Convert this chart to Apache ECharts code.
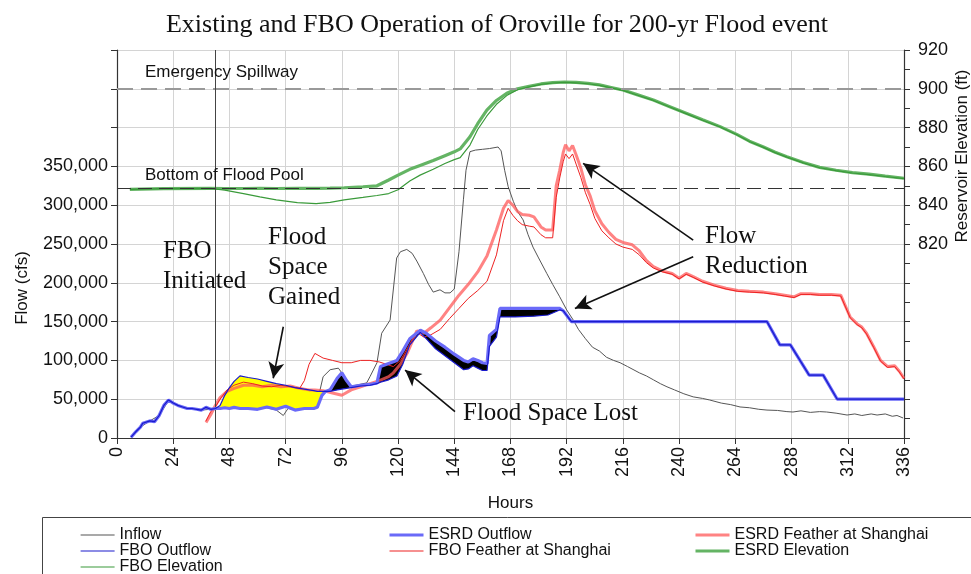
<!DOCTYPE html>
<html>
<head>
<meta charset="utf-8">
<script src="https://cdn.jsdelivr.net/npm/echarts@6/dist/echarts.min.js"></script>
<style>
  html, body { margin: 0; padding: 0; background: #fff; }
  #chart { width: 971px; height: 574px; }
</style>
</head>
<body>
<div id="chart"></div>
<script>
// hours tick labels
var hourTicks = [0, 24, 48, 72, 96, 120, 144, 168, 192, 216, 240, 264, 288, 312, 336];

// inflow (cfs)
var inflowHours = [6, 10, 14, 18, 22, 24, 28, 32, 36, 40, 44, 48, 52, 56, 60, 64, 68, 71, 73, 78, 84, 86, 88, 91, 94.5, 96, 98, 102, 106.6, 108, 111, 113, 116.6, 119.4, 121, 123.7, 126, 128, 130.8, 133, 135, 137.9, 140, 142.2, 144, 146, 147.9, 149, 150.7, 153, 156, 159, 162.7, 164, 165.5, 167, 169.2, 171, 173.4, 175.5, 177.6, 180, 183.5, 186, 189, 192, 194.8, 197, 200, 203, 206, 209, 212, 214.8, 218, 223, 226, 229, 232, 234.8, 238, 242, 246, 250, 253, 258, 262, 266, 270, 274, 277.5, 282, 286, 288.6, 292, 296, 300, 303, 307, 311.7, 315, 318, 322, 324.5, 328, 331, 333, 335.6];
var inflow = [1000, 14000, 22000, 29000, 48000, 45000, 40000, 38000, 36000, 37000, 39000, 40000, 38000, 37000, 38000, 39000, 36000, 29000, 38000, 37000, 38000, 53000, 79000, 88000, 90000, 84000, 66000, 68000, 71000, 79000, 97000, 135000, 152000, 232000, 240000, 243000, 238000, 228000, 212000, 198000, 188000, 191000, 187000, 187000, 192000, 240000, 307000, 345000, 369000, 371000, 372000, 373000, 375000, 370000, 345000, 324000, 305000, 292000, 281000, 262000, 246000, 232000, 212000, 198000, 182000, 165000, 152000, 140000, 128000, 117000, 112000, 104000, 100000, 97000, 92000, 84000, 80000, 75000, 70000, 66000, 62000, 57000, 53000, 51000, 49000, 45000, 43000, 40000, 39000, 37000, 36000, 35500, 34000, 33500, 35000, 33000, 34000, 33500, 32000, 29600, 31000, 29000, 31000, 29600, 31000, 28000, 29000, 25800];

// outflow (cfs), ESRD and FBO on the same hours
var outflowHours = [6, 8, 10, 11, 14, 16, 18, 20, 22, 24, 26, 28, 30, 32, 34, 36, 38, 40, 42, 44, 46, 48, 50, 52.5, 56, 60, 64, 68, 72, 76, 80, 84, 85.5, 87.5, 89, 91, 94, 96, 98, 100, 104, 108, 111, 112.5, 116, 119.5, 122, 125, 129.5, 132, 136, 140, 144, 148, 150, 152, 154, 156, 158, 159, 162, 163.5, 170, 178, 184, 189, 190.5, 194, 220, 250, 277.5, 283, 287.5, 295.5, 301.5, 307.5, 336];
var esrdOutflow = [1000, 8000, 14000, 19000, 22000, 21000, 29000, 42000, 49000, 45000, 42000, 40000, 38000, 38000, 37000, 36000, 39500, 37000, 38000, 38000, 39000, 38000, 39500, 38000, 38000, 37000, 40000, 37000, 41000, 36000, 38000, 38000, 39500, 55000, 60000, 62000, 77000, 84000, 74000, 66000, 68000, 69000, 71000, 92000, 96000, 100000, 112000, 128000, 139000, 135000, 125000, 117000, 108000, 100000, 98000, 102000, 100000, 97000, 96000, 132000, 140000, 167000, 167000, 167000, 167000, 167000, 164000, 150000, 150000, 150000, 150000, 120000, 120000, 81000, 81000, 50000, 50000];
var fboOutflow = [1000, 8000, 14000, 19000, 22000, 21000, 29000, 42000, 49000, 45000, 42000, 40000, 38000, 38000, 37000, 36000, 39500, 37000, 38000, 42000, 55000, 65000, 73000, 80000, 78000, 76000, 73000, 70000, 68000, 65000, 63000, 61000, 60000, 60000, 60000, 60000, 62000, 63000, 64000, 65000, 67000, 68000, 70000, 72000, 75000, 80000, 95000, 120000, 136000, 128000, 115000, 106000, 97000, 88000, 89000, 93000, 90000, 87000, 87000, 118000, 130000, 156000, 156000, 157000, 158500, 165000, 164000, 150000, 150000, 150000, 150000, 120000, 120000, 81000, 81000, 50000, 50000];

// Feather at Shanghai (cfs)
var featherHours = [38, 40, 42, 44, 47, 50, 54, 58, 62, 66, 70, 74, 78, 80, 82, 84.5, 88, 92, 96, 100, 104, 108, 112, 116, 118, 121, 124, 128, 131, 134, 138, 142, 146, 150, 154, 158, 162, 165, 167, 169, 171, 173, 176, 178, 181, 183, 186, 187.5, 189, 190.5, 191.5, 193, 194.5, 196, 198, 200, 202, 204, 207, 210, 213, 216, 220, 223, 226, 229, 233, 237, 240, 243, 246, 250, 255, 260, 265, 270, 276, 281, 285, 289, 292, 296, 300, 305, 309, 311, 313, 316, 318, 320, 323, 326, 329, 332, 334, 336];
var esrdFeather = [20000, 30000, 42000, 52000, 60000, 64000, 68000, 68000, 66000, 68000, 66000, 67000, 64000, 63000, 62000, 62000, 61000, 58000, 55000, 62000, 66000, 70000, 74000, 79000, 84000, 95000, 110000, 138000, 135000, 142000, 152000, 168000, 184000, 198000, 214000, 235000, 268000, 296000, 306000, 300000, 292000, 288000, 287000, 285000, 272000, 268000, 268000, 325000, 345000, 368000, 378000, 370000, 377000, 365000, 348000, 326000, 312000, 293000, 276000, 265000, 256000, 252000, 249000, 241000, 229000, 221000, 215000, 212000, 206000, 212000, 208000, 202000, 197000, 193000, 190000, 189000, 188000, 186000, 184000, 182000, 186000, 186000, 185000, 185000, 184000, 170000, 156000, 147000, 143000, 135000, 118000, 100000, 92000, 93000, 86000, 77000];
var fboFeather = [22000, 34000, 40000, 50000, 62000, 68000, 72000, 70000, 67000, 66000, 68000, 66000, 64000, 74000, 95000, 109000, 103000, 100000, 97000, 97000, 100000, 100000, 98000, 94000, 92000, 100000, 116000, 136000, 130000, 133000, 140000, 154000, 167000, 180000, 190000, 202000, 236000, 280000, 296000, 287000, 280000, 275000, 273000, 272000, 262000, 258000, 258000, 310000, 335000, 356000, 366000, 360000, 366000, 353000, 336000, 316000, 301000, 283000, 267000, 258000, 250000, 246000, 243000, 236000, 226000, 219000, 214000, 211000, 205000, 211000, 207000, 201000, 196000, 192000, 189000, 188000, 187000, 185000, 183000, 181000, 185000, 185000, 184000, 184000, 183000, 169000, 155000, 146000, 142000, 134000, 117000, 99000, 91000, 92000, 85000, 76000];

// reservoir elevation (ft)
var elevHours = [5.5, 20, 40, 46, 54, 61, 68, 77, 85, 91, 97, 105, 111, 116, 120, 125, 129.4, 135, 140, 144, 146.5, 150.7, 154, 157.9, 162, 166.4, 171, 176, 181, 186, 191, 196, 201, 206, 211, 216, 222, 229, 236, 243, 250, 257.5, 264.6, 270, 276, 281, 286, 293, 300, 307, 314, 321, 328, 336];
var esrdElev = [848.2, 848.5, 848.7, 848.6, 848.6, 848.7, 848.6, 848.7, 848.7, 848.8, 849, 849.5, 850, 853, 855.5, 858.5, 860.5, 863, 865.5, 867.5, 869, 875.3, 882, 889, 894, 897.7, 900, 901.3, 902.5, 903.2, 903.5, 903.3, 902.8, 902, 900.7, 899.4, 897, 894.2, 890.8, 887.4, 884, 880.5, 876.5, 873, 870, 867.3, 865, 862, 859.5, 858, 856.8, 856, 855, 853.9];
var fboElev = [848.2, 848.5, 848.7, 847.8, 846, 844.3, 842.7, 841.3, 840.8, 841.5, 842.7, 844, 845, 846, 848, 852.5, 855.5, 858.5, 861.5, 863.5, 864.5, 871, 879, 886, 892, 896.5, 899.5, 901, 902.3, 903, 903.3, 903.1, 902.6, 901.8, 900.5, 899.2, 896.8, 894, 890.6, 887.2, 883.8, 880.3, 876.3, 872.8, 869.8, 867.1, 864.8, 861.8, 859.3, 857.8, 856.6, 855.8, 854.8, 853.7];

// reference levels (ft)
var spillwayElev = 900;
var floodPoolElev = 848.5;
var fboStartHour = 41.8;

function pairs(hours, vals) {
  return hours.map(function (h, i) {
    return [h, vals[i]];
  });
}

// filled band between two outflow lines over a range of hours
function bandSeries(h0, h1, upper, lower, color) {
  return {
    type: "custom",
    silent: true,
    z: 2,
    data: [[h0, 0]],
    renderItem: function (params, api) {
      var top = [];
      var bot = [];
      outflowHours.forEach(function (h, i) {
        if (h >= h0 && h <= h1) {
          top.push(api.coord([h, upper[i]]));
          bot.unshift(api.coord([h, lower[i]]));
        }
      });
      return {
        type: "polygon",
        shape: { points: top.concat(bot) },
        style: { fill: color },
      };
    },
  };
}

function lineSeries(name, data, color, width, yAxisIndex, z) {
  return {
    name: name,
    type: "line",
    data: data,
    yAxisIndex: yAxisIndex,
    symbol: "none",
    z: z,
    lineStyle: { color: color, width: width },
    itemStyle: { color: color },
    emphasis: { disabled: true },
  };
}

var chartDom = document.getElementById("chart");
var myChart = echarts.init(chartDom);
var option;

var arrowLine = { color: "#111", width: 1.6, type: "solid" };

var inflowSeries = lineSeries("Inflow", pairs(inflowHours, inflow), "#555", 1, 0, 1);
inflowSeries.markLine = {
  silent: true,
  symbol: ["none", "arrow"],
  symbolSize: [12, 16],
  label: { show: false },
  lineStyle: arrowLine,
  data: [
    [{ coord: [71, 143400] }, { coord: [66.7, 77000] }],
    [{ coord: [144.3, 34000] }, { coord: [123, 87600] }],
    [{ coord: [246, 255000] }, { coord: [199, 354000] }],
    [{ coord: [246, 233600] }, { coord: [195.5, 167000] }],
  ],
};

var esrdElevSeries = lineSeries("ESRD Elevation", pairs(elevHours, esrdElev), "#64b464", 3.2, 1, 3);
esrdElevSeries.markLine = {
  silent: true,
  symbol: "none",
  label: { show: false },
  data: [
    { yAxis: spillwayElev, lineStyle: { color: "#999", width: 2, type: [16, 8] } },
    { yAxis: floodPoolElev, lineStyle: { color: "#333", width: 1.2, type: [14, 7] } },
  ],
};

var fboOutflowSeries = lineSeries("FBO Outflow", pairs(outflowHours, fboOutflow), "#1a1acc", 1.2, 0, 6);
fboOutflowSeries.markLine = {
  silent: true,
  symbol: "none",
  label: { show: false },
  lineStyle: { color: "#444", width: 1, type: "solid" },
  data: [{ xAxis: fboStartHour }],
};

var legendText = { fontFamily: "Liberation Sans", fontSize: 16, color: "#111", lineHeight: 15 };
function legendCol(left, names) {
  return {
    orient: "vertical",
    left: left,
    top: 527,
    height: 60,
    itemWidth: 34,
    itemHeight: 15,
    itemGap: 0,
    padding: 0,
    selectedMode: false,
    itemStyle: { opacity: 0 },
    textStyle: legendText,
    data: names.map(function (n) {
      return n.indexOf("ESRD") === 0 ? { name: n, lineStyle: { width: 3 } } : { name: n, lineStyle: { width: 1.2 } };
    }),
  };
}

var serifText = { fontFamily: "Liberation Serif", fontSize: 25, fill: "#111", lineHeight: 30 };
var labelText = { fontFamily: "Liberation Sans", fontSize: 17, fill: "#111" };

option = {
  animation: false,
  backgroundColor: "#fff",
  title: {
    text: "Existing and FBO Operation of Oroville for 200-yr Flood event",
    left: 492,
    top: 7,
    textAlign: "center",
    textStyle: { fontFamily: "Liberation Serif", fontSize: 26, fontWeight: "normal", color: "#111" },
  },
  grid: { left: 117, right: 67, top: 50, bottom: 136 },
  legend: [
    legendCol(80, ["Inflow", "FBO Outflow", "FBO Elevation"]),
    legendCol(388, ["ESRD Outflow", "FBO Feather at Shanghai"]),
    legendCol(694, ["ESRD Feather at Shanghai", "ESRD Elevation"]),
  ],
  xAxis: {
    type: "value",
    min: hourTicks[0],
    max: hourTicks[hourTicks.length - 1],
    interval: 24,
    name: "Hours",
    nameLocation: "middle",
    nameGap: 57,
    nameTextStyle: { fontFamily: "Liberation Sans", fontSize: 17, color: "#111" },
    axisLine: { lineStyle: { color: "#333", width: 1.2 } },
    axisTick: { show: true, length: 6, lineStyle: { color: "#333" } },
    axisLabel: { rotate: 90, margin: 9, fontFamily: "Liberation Sans", fontSize: 18, color: "#111" },
    splitLine: { show: true, lineStyle: { color: "#d4d4d4", width: 1 } },
  },
  yAxis: [
    {
      type: "value",
      min: 0,
      max: 500000,
      interval: 50000,
      axisLine: { show: true, lineStyle: { color: "#333", width: 1.2 } },
      axisTick: { show: true, length: 6, lineStyle: { color: "#333" } },
      axisLabel: {
        margin: 9,
        fontFamily: "Liberation Sans",
        fontSize: 18,
        color: "#111",
        formatter: function (v) {
          return v <= 350000 ? v.toLocaleString("en-US") : "";
        },
      },
      splitLine: { show: true, lineStyle: { color: "#d4d4d4", width: 1 } },
    },
    {
      type: "value",
      min: 720,
      max: 920,
      interval: 20,
      position: "right",
      axisLine: { show: true, lineStyle: { color: "#333", width: 1.2 } },
      axisTick: { show: true, length: 6, lineStyle: { color: "#333" } },
      minorTick: { show: true, splitNumber: 2, length: 6, lineStyle: { color: "#333" } },
      axisLabel: {
        margin: 14,
        fontFamily: "Liberation Sans",
        fontSize: 18,
        color: "#111",
        formatter: function (v) {
          return v >= 820 ? String(v) : "";
        },
      },
      splitLine: { show: false },
    },
  ],
  graphic: [
    {
      type: "text",
      z: 100,
      rotation: Math.PI / 2,
      x: 22,
      y: 288,
      style: { text: "Flow (cfs)", fontFamily: "Liberation Sans", fontSize: 17, fill: "#111", textAlign: "center", textVerticalAlign: "middle" },
    },
    {
      type: "text",
      z: 100,
      rotation: Math.PI / 2,
      x: 962,
      y: 156,
      style: { text: "Reservoir Elevation (ft)", fontFamily: "Liberation Sans", fontSize: 17, fill: "#111", textAlign: "center", textVerticalAlign: "middle" },
    },
    { type: "text", z: 100, x: 145, y: 64, style: Object.assign({ text: "Emergency Spillway" }, labelText) },
    { type: "text", z: 100, x: 145, y: 167, style: Object.assign({ text: "Bottom of Flood Pool" }, labelText) },
    { type: "text", z: 100, x: 163, y: 236, style: Object.assign({ text: "FBO\nInitiated" }, serifText) },
    { type: "text", z: 100, x: 268, y: 222, style: Object.assign({ text: "Flood\nSpace\nGained" }, serifText) },
    { type: "text", z: 100, x: 463, y: 398, style: Object.assign({ text: "Flood Space Lost" }, serifText) },
    { type: "text", z: 100, x: 705, y: 221, style: Object.assign({ text: "Flow\nReduction" }, serifText) },
    {
      type: "rect",
      shape: { x: 42.5, y: 517.5, width: 960, height: 80 },
      style: { fill: "none", stroke: "#444", lineWidth: 1 },
    },
  ],
  series: [
    inflowSeries,
    bandSeries(42, 89, fboOutflow, esrdOutflow, "#ffff00"),
    bandSeries(89, 194, esrdOutflow, fboOutflow, "#000"),
    esrdElevSeries,
    lineSeries("FBO Elevation", pairs(elevHours, fboElev), "#3a9a3a", 1.2, 1, 3),
    lineSeries("ESRD Feather at Shanghai", pairs(featherHours, esrdFeather), "rgba(255,90,90,0.75)", 3, 0, 4),
    lineSeries("FBO Feather at Shanghai", pairs(featherHours, fboFeather), "#ee2222", 1, 0, 4),
    lineSeries("ESRD Outflow", pairs(outflowHours, esrdOutflow), "#6a6af8", 3.2, 0, 5),
    fboOutflowSeries,
  ],
};

option && myChart.setOption(option);
</script>
</body>
</html>
